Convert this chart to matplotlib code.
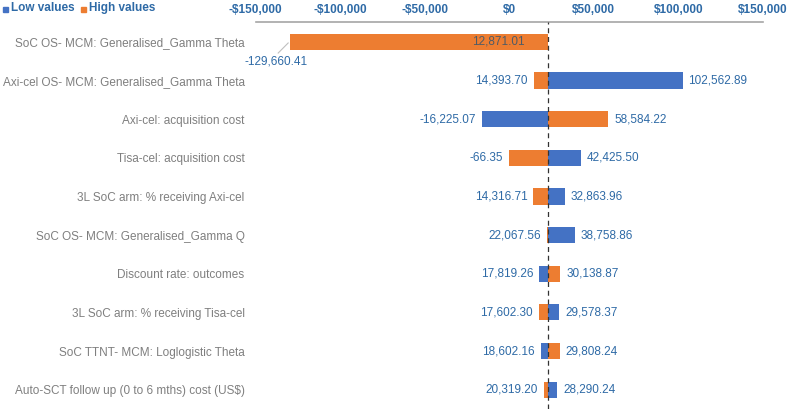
import matplotlib
matplotlib.use("Agg")
import matplotlib.pyplot as plt
from matplotlib.patches import Rectangle
from matplotlib.ticker import FuncFormatter

plt.rcParams['font.family'] = ['Liberation Sans', 'DejaVu Sans']

categories = [
    "SoC OS- MCM: Generalised_Gamma Theta",
    "Axi-cel OS- MCM: Generalised_Gamma Theta",
    "Axi-cel: acquisition cost",
    "Tisa-cel: acquisition cost",
    "3L SoC arm: % receiving Axi-cel",
    "SoC OS- MCM: Generalised_Gamma Q",
    "Discount rate: outcomes",
    "3L SoC arm: % receiving Tisa-cel",
    "SoC TTNT- MCM: Loglogistic Theta",
    "Auto-SCT follow up (0 to 6 mths) cost (US$)",
]
low_values = [12871.01, 102562.89, -16225.07, 42425.50, 32863.96,
              38758.86, 17819.26, 29578.37, 18602.16, 28290.24]
high_values = [-129660.41, 14393.70, 58584.22, -66.35, 14316.71,
               22067.56, 30138.87, 17602.30, 29808.24, 20319.20]
base_value = 23100
xticks = [-150000, -100000, -50000, 0, 50000, 100000, 150000]

BLUE = '#4472C4'
ORANGE = '#ED7D31'
LBL = '#2E6AA6'
GRAY = '#7F7F7F'

fig = plt.figure(figsize=(7.88, 4.09), dpi=100)
ax = fig.add_axes([0.3245, 0.0, 0.6435, 0.945])

n = len(categories)
ys = list(range(n))
h = 0.42
for i, (lo, hi) in enumerate(zip(low_values, high_values)):
    ax.barh(i, lo - base_value, left=base_value, height=h, color=BLUE, zorder=2)
    ax.barh(i, hi - base_value, left=base_value, height=h, color=ORANGE, zorder=3)

gap = 3500
for i, (lo, hi) in enumerate(zip(low_values, high_values)):
    for v in (lo, hi):
        txt = f"{v:,.2f}"
        if i == 0 and v == hi:
            ax.text(-137900, 0.52, txt, ha='center', va='center', fontsize=8.5,
                    color=LBL, zorder=5)
            ax.plot([-136700, -130800], [0.29, 0.03], color='#BFBFBF', lw=0.8,
                    zorder=5)
            continue
        col = '#4F5B66' if (i == 0) else LBL
        if v < base_value:
            ax.text(v - gap, i, txt, ha='right', va='center', fontsize=8.5,
                    color=col, zorder=5)
        else:
            ax.text(v + gap, i, txt, ha='left', va='center', fontsize=8.5,
                    color=col, zorder=5)

ax.axvline(base_value, color='#333333', lw=0.9, ls=(0, (4, 3)), zorder=4)

ax.set_xlim(-150000, 150000)
ax.set_ylim(n - 0.5, -0.5)
ax.set_yticks(ys)
ax.set_yticklabels(categories, fontsize=8.5, color=GRAY)
ax.tick_params(axis='y', length=0, pad=8)
ax.xaxis.tick_top()
ax.set_xticks(xticks)
ax.xaxis.set_major_formatter(FuncFormatter(
    lambda x, p: ("-$" if x < 0 else "$") + f"{abs(int(x)):,}"))
ax.tick_params(axis='x', length=0, pad=5, labelsize=8.5, labelcolor=LBL)
for lab in ax.get_xticklabels():
    lab.set_fontweight('bold')
for s in ['left', 'right', 'bottom']:
    ax.spines[s].set_visible(False)
ax.spines['top'].set_color('#A6A6A6')
ax.spines['top'].set_linewidth(1.2)
ax.set_facecolor('none')

# legend
fig.patches.append(Rectangle((3 / 788, 1 - 12 / 409), 5 / 788, 5 / 409,
                             transform=fig.transFigure, color=BLUE))
fig.text(11 / 788, 1 - 8 / 409, "Low values", fontsize=8.5, fontweight='bold',
         color=LBL, va='center', ha='left')
fig.patches.append(Rectangle((81 / 788, 1 - 12 / 409), 5 / 788, 5 / 409,
                             transform=fig.transFigure, color=ORANGE))
fig.text(89 / 788, 1 - 8 / 409, "High values", fontsize=8.5, fontweight='bold',
         color=LBL, va='center', ha='left')

fig.savefig("out.png", dpi=100)
